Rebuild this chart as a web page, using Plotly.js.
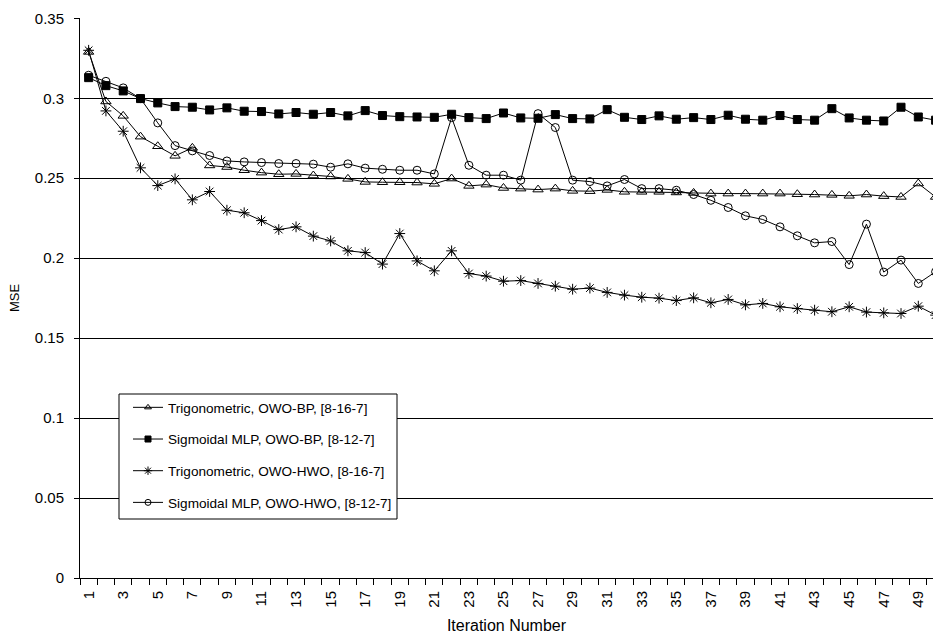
<!DOCTYPE html>
<html>
<head>
<meta charset="utf-8">
<script src="https://cdn.plot.ly/plotly-3.0.1.min.js"></script>
<style>html,body{margin:0;padding:0;background:#fff;}#chart{width:933px;height:635px;}</style>
</head>
<body>
<div id="chart"></div>
<script>
// Iteration numbers (categories)
var iterations = [];
for (var i = 1; i <= 50; i++) iterations.push(i);

// Tick labels shown on the x axis (odd iterations)
var xTickVals = [1,3,5,7,9,11,13,15,17,19,21,23,25,27,29,31,33,35,37,39,41,43,45,47,49];
var xTickText = ["1","3","5","7","9","11","13","15","17","19","21","23","25","27","29","31","33","35","37","39","41","43","45","47","49"];

// Series names
var seriesNames = [
  "Trigonometric, OWO-BP, [8-16-7]",
  "Sigmoidal MLP, OWO-BP, [8-12-7]",
  "Trigonometric, OWO-HWO, [8-16-7]",
  "Sigmoidal MLP, OWO-HWO, [8-12-7]"
];

// MSE values
var trigBP = [0.329, 0.298, 0.289, 0.276, 0.270, 0.264, 0.269, 0.258, 0.257, 0.255,
  0.2535, 0.2525, 0.2527, 0.2517, 0.2511, 0.2496, 0.2477, 0.2475, 0.2475, 0.2473,
  0.2465, 0.2498, 0.2452, 0.2460, 0.2439, 0.2435, 0.2429, 0.2435, 0.2421, 0.2419,
  0.2427, 0.2415, 0.2415, 0.2415, 0.2411, 0.2408, 0.2404, 0.2404, 0.2404, 0.2404,
  0.2404, 0.2400, 0.2398, 0.2396, 0.2390, 0.2398, 0.2388, 0.2383, 0.2467, 0.2383];

var sigBP = [0.3129, 0.3079, 0.3046, 0.2998, 0.2971, 0.2948, 0.2944, 0.2927, 0.2940, 0.2919,
  0.2917, 0.2902, 0.2911, 0.2900, 0.2911, 0.2890, 0.2923, 0.2892, 0.2885, 0.2883,
  0.2881, 0.2900, 0.2879, 0.2873, 0.2908, 0.2877, 0.2875, 0.2898, 0.2873, 0.2871,
  0.2929, 0.2881, 0.2867, 0.2890, 0.2869, 0.2879, 0.2867, 0.2894, 0.2869, 0.2863,
  0.2892, 0.2867, 0.2863, 0.2935, 0.2877, 0.2863, 0.2858, 0.2944, 0.2883, 0.2863];

var trigHWO = [0.330, 0.2921, 0.2794, 0.2565, 0.2454, 0.2496, 0.2365, 0.2417, 0.2300, 0.2284,
  0.2235, 0.2179, 0.2196, 0.2138, 0.2108, 0.2046, 0.2035, 0.1963, 0.2154, 0.1983,
  0.1921, 0.2046, 0.1904, 0.1888, 0.1856, 0.1860, 0.1842, 0.1825, 0.1806, 0.1813,
  0.1786, 0.1769, 0.1756, 0.1750, 0.1735, 0.1752, 0.1721, 0.1742, 0.1708, 0.1717,
  0.1696, 0.1685, 0.1675, 0.1665, 0.1696, 0.1663, 0.1658, 0.1654, 0.1700, 0.1644];

var sigHWO = [0.3144, 0.3106, 0.3065, 0.2998, 0.2846, 0.2704, 0.2671, 0.2642, 0.2608, 0.2602,
  0.2598, 0.2592, 0.2592, 0.2588, 0.2569, 0.2590, 0.2563, 0.2556, 0.2550, 0.2550,
  0.2527, 0.2879, 0.2581, 0.2519, 0.2519, 0.2488, 0.2904, 0.2817, 0.2488, 0.2479,
  0.2452, 0.2492, 0.2435, 0.2435, 0.2425, 0.2398, 0.2362, 0.2317, 0.2265, 0.2242,
  0.2196, 0.2140, 0.2096, 0.2104, 0.1960, 0.2213, 0.1913, 0.1988, 0.1842, 0.1915];

var seriesData = [trigBP, sigBP, trigHWO, sigHWO];
var symbols = ["triangle-up-open", "square", "asterisk-open", "circle-open"];
var plotSizes = [9, 8, 9, 8];
var legendSizes = [6, 6, 7, 6];

var FONT = "Liberation Sans, Arial, sans-serif";

var traces = [];
// data traces
for (var k = 0; k < 4; k++) {
  traces.push({
    type: "scatter", mode: "lines+markers", name: seriesNames[k],
    x: iterations, y: seriesData[k], showlegend: false,
    line: {color: "#000", width: 1},
    marker: {symbol: symbols[k], size: plotSizes[k], color: "#000", line: {color: "#000", width: 1}}
  });
}
// legend entries (smaller legend symbols, like the original)
for (var k = 0; k < 4; k++) {
  traces.push({
    type: "scatter", mode: "lines+markers", name: seriesNames[k],
    x: [null], y: [null], legendgroup: "g" + k, showlegend: true,
    line: {color: "#000", width: 1},
    marker: {symbol: symbols[k], size: legendSizes[k], color: "#000", line: {color: "#000", width: 1}}
  });
}

var layout = {
  width: 933, height: 635,
  margin: {l: 80, r: 0, t: 18, b: 57},
  paper_bgcolor: "#fff", plot_bgcolor: "#fff",
  font: {family: FONT, color: "#000", size: 15},
  showlegend: true,
  legend: {
    x: (128 - 80) / 853, y: (578 - 392) / 560, xanchor: "left", yanchor: "top",
    bgcolor: "rgba(0,0,0,0)", borderwidth: 0,
    font: {family: FONT, size: 13.6, color: "#000"},
    tracegroupgap: 11, traceorder: "grouped"
  },
  shapes: [{
    type: "rect", xref: "paper", yref: "paper", layer: "above",
    x0: (119 - 80) / 853, x1: (397 - 80) / 853,
    y0: (578 - 519) / 560, y1: (578 - 394) / 560,
    fillcolor: "#fff", line: {color: "#000", width: 1}
  }],
  xaxis: {
    range: [0.5, 49.85],
    tickmode: "array", tickvals: xTickVals, ticktext: xTickText,
    tickangle: -90,
    ticks: "outside", ticklen: 6, tickcolor: "rgba(0,0,0,0)",
    tickfont: {family: FONT, size: 15, color: "#000"},
    minor: {tick0: 0.5, dtick: 1, ticks: "outside", ticklen: 6, tickcolor: "#000", tickwidth: 1, showgrid: false},
    showline: true, linecolor: "#000", linewidth: 1,
    showgrid: false, zeroline: false,
    title: {text: "Iteration Number", font: {family: FONT, size: 16, color: "#000"}, standoff: 13}
  },
  yaxis: {
    range: [0, 0.3502],
    tick0: 0, dtick: 0.05,
    ticks: "outside", ticklen: 5, tickcolor: "#000",
    ticklabelstandoff: 7,
    tickfont: {family: FONT, size: 15, color: "#000"},
    showline: true, linecolor: "#000", linewidth: 1,
    showgrid: true, gridcolor: "#000", gridwidth: 1,
    zeroline: false,
    title: {text: "MSE", font: {family: FONT, size: 13, color: "#000"}, standoff: 12}
  }
};

Plotly.newPlot("chart", traces, layout, {displayModeBar: false, staticPlot: true});
</script>
</body>
</html>
